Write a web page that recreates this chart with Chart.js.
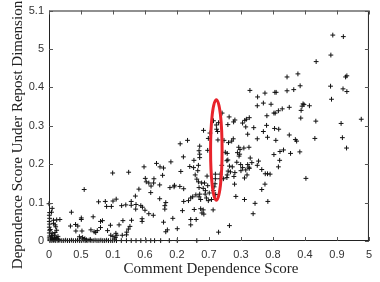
<!DOCTYPE html>
<html>
<head>
<meta charset="utf-8">
<script src="https://cdn.jsdelivr.net/npm/chart.js@4.4.1/dist/chart.umd.min.js"></script>
<style>
  html, body { margin: 0; padding: 0; background: #fff; }
</style>
</head>
<body>
<canvas id="scoreChart" width="380" height="282"></canvas>
<script>
// tick labels exactly as printed on the figure
const xTickLabels = ["0", "0.5", "0.1", "0.6", "0.2", "0.7", "0.3", "0.8", "0.4", "0.9", "5"];
const yTickLabels = ["0", "0.1", "0.2", "0.3", "0.4", "5", "5.1"];
const xAxisTitle = "Comment Dependence Score";
const yAxisTitle = "Dependence Score Under Repost Dimension";

// points sitting on the x axis
const floorRow = [
  [0.03,0.01],[0.09,0.01],[0.15,0.02],[0.21,0.01],[0.28,0.01],[0.34,0.02],[0.40,0.01],[0.46,0.01],
  [0.52,0.02],[0.58,0.01],[0.64,0.01],[0.70,0.02],[0.76,0.01],[0.83,0.01],[0.89,0.02],[0.95,0.01],
  [1.01,0.01],[1.07,0.02],[1.13,0.01],[1.19,0.01],[1.25,0.02],[1.31,0.01],[1.38,0.01],[1.44,0.02],
  [1.50,0.01],[1.56,0.01],[1.62,0.02],[1.68,0.01],[1.74,0.01],[1.80,0.02],[1.86,0.01],[1.93,0.01],
  [1.99,0.01],[2.05,0.02],[2.11,0.01],[2.26,0.01],[2.42,0.01],[2.57,0.01],[2.72,0.01],[2.87,0.01],
  [3.03,0.01],[3.18,0.01],[3.30,0.01],[3.49,0.01],[3.76,0.01],[4.01,0.01],[4.62,0.01]
];

// points sitting on the y axis and the cluster round the origin
const axisColumn = [
  [0.02,0.74],[0.01,0.67],[0.02,0.59],[0.01,0.51],[0.02,0.44],[0.01,0.36],[0.02,0.28],[0.01,0.21],
  [0.02,0.13],[0.01,0.08],[0.02,0.03],[0.00,0.97],[0.10,0.85],[0.08,0.75]
];
const nearOrigin = [
  [0.14,0.54],[0.24,0.55],[0.34,0.56],[0.14,0.46],[0.19,0.42],[0.24,0.28],[0.19,0.22],[0.17,0.15],
  [0.21,0.37],[0.05,0.08],[0.12,0.10],[0.18,0.05],[0.08,0.15],[0.25,0.06],[0.30,0.03],[0.10,0.20],
  [0.04,0.30],[0.15,0.02],[0.06,0.04],[0.11,0.06],[0.22,0.09],[0.28,0.12]
];

// comment score below the 0.6 tick
const lowCloud = [
  [0.70,0.75],[0.83,0.43],[0.67,0.39],[0.84,0.26],[1.03,0.26],[1.01,0.07],[0.90,0.39],[1.46,0.22],
  [1.12,0.06],[1.17,0.03],[1.29,0.04],[0.95,0.11],[1.05,0.09],[1.41,0.24],[2.12,0.15],
  [1.10,1.34],[1.01,0.60],[1.01,0.56],[1.31,0.29],[1.38,0.63],[1.61,0.35],[1.51,0.27],
  [1.61,0.51],[1.67,0.53],[1.92,0.41],[2.19,0.42],[2.31,0.53],[2.58,0.54],[2.53,0.38],[2.48,0.31],
  [2.43,0.23],[2.29,0.15],[2.42,0.16],[2.09,0.20],[1.83,0.27],[1.93,0.15],[2.00,0.12],[2.07,0.09],
  [1.99,1.77],[2.49,1.79],[2.57,1.03],[2.57,0.93],[2.40,0.94],[2.27,0.92],[2.10,1.09],[2.00,1.04],
  [1.76,1.03],[1.95,0.90],[1.80,0.90],[1.55,1.02],
  [2.91,0.58],[2.91,0.51],[2.87,0.92],[2.92,0.88],[2.72,0.95],[2.71,0.83],[2.70,1.17],[2.81,1.35],
  [2.97,1.93]
];

// comment score between the 0.6 and 0.7 ticks
const midCloud = [
  [3.00,0.80],[3.01,1.63],[3.04,1.54],[3.12,1.51],[3.19,1.43],[3.18,1.26],[3.28,1.62],[3.27,1.51],
  [3.36,2.02],[3.47,1.93],[3.58,1.90],[3.55,1.71],[3.46,1.46],[3.46,1.10],[3.65,1.00],[3.62,0.92],
  [3.62,0.83],[3.81,2.06],[3.78,1.39],[3.92,1.45],[3.91,1.41],[4.09,1.42],[4.12,1.81],[4.21,1.36],
  [3.26,0.67],[3.12,0.71],[3.58,0.49],[3.87,0.59],[3.70,0.29],[4.01,0.32],[3.65,0.24],[4.17,0.79],
  [4.69,2.35],[4.20,2.19],[4.71,2.26],[4.71,2.17],[4.71,2.47],[4.33,2.62],[4.10,2.53],[4.83,2.88],
  [5.03,2.81],[4.98,2.67],[4.96,2.36],[5.28,2.63],[5.27,2.85],[5.14,3.13],[5.30,3.08],[5.23,3.02],
  [5.24,2.91],[5.41,3.33],
  [4.40,1.94],[4.52,1.91],[4.67,1.97],[4.53,2.10],[4.65,1.83],[4.57,1.72],[4.62,1.61],[4.67,1.54],
  [4.77,1.51],[4.86,1.51],[4.69,1.39],[4.82,1.37],[4.94,1.69],[5.20,1.74],[5.20,1.62],[5.19,1.49],
  [5.35,1.74],[5.35,1.62],[5.45,1.62],[5.40,1.97],
  [5.01,1.25],[4.92,1.12],[5.08,1.08],[5.21,1.21],[4.96,1.44],[5.16,1.41],[5.14,1.31],[4.88,1.22],
  [4.59,1.20],[4.71,1.22],[4.89,1.31],[4.21,1.03],[4.36,1.05],[4.43,1.12],[4.49,1.15],[4.69,1.15],
  [4.74,1.08],[4.98,1.05],
  [4.54,0.82],[4.74,0.84],[4.82,0.81],[4.78,0.73],[4.84,0.70],[4.43,0.56],[4.60,0.56],[4.43,0.42],
  [5.13,0.81],[5.30,0.23]
];

// comment score above the 0.7 tick
const highCloud = [
  [5.63,3.23],[5.81,3.15],[5.77,3.10],[5.59,3.03],[6.05,3.07],[6.12,3.14],[6.17,3.17],[6.26,3.21],
  [6.40,2.95],[6.15,2.97],[6.21,2.78],[6.51,2.66],[6.83,2.70],[5.47,2.62],[5.61,2.56],[5.71,2.60],
  [5.76,2.66],
  [5.51,2.31],[5.89,2.30],[5.93,2.44],[6.09,2.42],[6.25,2.44],[5.97,2.38],[5.96,2.26],[5.94,2.21],
  [5.57,2.28],[5.56,2.09],[5.59,2.11],[5.87,2.05],[6.29,2.16],[6.55,2.08],[6.34,2.04],[6.21,1.99],
  [6.25,1.92],[6.26,1.89],[6.51,1.97],[6.05,1.91],[6.15,1.85],[5.99,1.99],[6.00,1.83],[6.11,1.64],
  [6.19,1.72],[6.65,1.86],
  [5.57,1.72],[5.56,1.65],[5.60,1.82],[5.64,1.95],[5.73,1.93],[5.67,1.80],[5.78,1.68],[5.81,1.78],
  [5.80,1.48],
  [6.76,1.75],[6.83,1.75],[6.91,1.74],[6.75,1.48],[6.65,1.34],[5.84,1.16],[6.11,1.08],[6.44,0.98],
  [6.84,1.03],[6.38,0.71],[5.64,0.40],
  [7.17,1.93],[7.21,2.10],[7.03,2.25],[7.22,2.33],[7.33,2.37],[7.55,2.28],[7.84,2.32],[8.03,1.63],
  [7.09,2.62],[7.51,2.76],[7.70,2.64],[7.74,2.60],[8.31,2.67],[9.17,2.69],[9.30,2.42],
  [6.80,3.01],[6.81,3.26],[6.70,2.85],[7.05,2.93],[7.18,2.91],[7.03,3.33],[7.07,3.33],[7.17,3.39],
  [7.29,3.44],[7.51,3.48],[7.94,3.57],[7.97,3.55],[7.91,3.51],[8.14,3.52],[7.88,3.40],[7.87,3.20],
  [8.34,3.12],[9.13,3.06],[9.76,3.17],[6.70,3.59],[6.51,3.52],[6.94,3.56],
  [6.28,3.92],[6.52,3.75],[6.75,3.85],[7.06,3.87],[7.10,3.87],[7.44,3.91],[7.65,3.94],[7.85,4.04],
  [7.44,4.27],[7.78,4.35],[8.80,4.03],[9.19,3.96],[9.31,3.89],[8.83,3.69],[9.31,4.30],[9.27,4.27],
  [8.35,4.67],[8.81,4.84],[8.87,5.36],[9.20,5.32]
];

// red ring round the vertical column near the 0.7 tick
const highlight = { x: 5.23, y: 2.37, rx: 0.18, ry: 1.31 };

const allPoints = [...floorRow, ...axisColumn, ...nearOrigin, ...lowCloud, ...midCloud, ...highCloud]
  .map(([x, y]) => ({ x, y }));

const tickFont = { family: "'Liberation Sans', Arial, sans-serif", size: 11, lineHeight: 1 };
const titleFont = "15px 'Liberation Serif', 'Times New Roman', serif";

// box, inward ticks, ring and the axis titles
const framePlugin = {
  id: "frame",
  afterDatasetsDraw(chart) {
    const { ctx, chartArea: a, scales: { x, y } } = chart;
    ctx.save();
    ctx.strokeStyle = "#222";
    ctx.lineWidth = 1;
    ctx.strokeRect(a.left + 0.5, a.top + 0.5, a.right - a.left - 1, a.bottom - a.top - 1);

    ctx.strokeStyle = "#555";
    const tl = 4;
    x.ticks.forEach(t => {
      const px = Math.round(x.getPixelForValue(t.value)) + 0.5;
      ctx.beginPath();
      ctx.moveTo(px, a.bottom); ctx.lineTo(px, a.bottom - tl);
      ctx.moveTo(px, a.top); ctx.lineTo(px, a.top + tl);
      ctx.stroke();
    });
    y.ticks.forEach(t => {
      const py = Math.round(y.getPixelForValue(t.value)) + 0.5;
      ctx.beginPath();
      ctx.moveTo(a.left, py); ctx.lineTo(a.left + tl, py);
      ctx.moveTo(a.right, py); ctx.lineTo(a.right - tl, py);
      ctx.stroke();
    });

    // ellipse
    const cx = x.getPixelForValue(highlight.x);
    const cy = y.getPixelForValue(highlight.y);
    const rx = Math.abs(x.getPixelForValue(highlight.x + highlight.rx) - cx);
    const ry = Math.abs(y.getPixelForValue(highlight.y + highlight.ry) - cy);
    ctx.strokeStyle = "#e8232b";
    ctx.lineWidth = 3;
    ctx.beginPath();
    ctx.ellipse(cx, cy, rx, ry, 0, 0, Math.PI * 2);
    ctx.stroke();

    ctx.fillStyle = "#222";
    ctx.font = titleFont;
    ctx.textAlign = "center";
    ctx.textBaseline = "middle";
    ctx.fillText(xAxisTitle, (a.left + a.right) / 2 + 2, 269);
    ctx.translate(18, 135);
    ctx.rotate(-Math.PI / 2);
    ctx.fillText(yAxisTitle, 0, 0);
    ctx.restore();
  }
};

new Chart(document.getElementById("scoreChart"), {
  type: "scatter",
  data: {
    datasets: [{
      label: "Users",
      data: allPoints,
      pointStyle: "cross",
      pointRadius: 2.4,
      pointHoverRadius: 2.4,
      borderColor: "#111",
      backgroundColor: "#111",
      borderWidth: 1,
      clip: false
    }]
  },
  options: {
    responsive: false,
    animation: false,
    devicePixelRatio: 1,
    layout: { padding: { top: 6, right: 4, left: 0, bottom: 0 } },
    scales: {
      x: {
        type: "linear",
        min: 0,
        max: 10,
        grid: { display: false, drawTicks: false },
        border: { display: false },
        ticks: {
          stepSize: 1,
          autoSkip: false,
          maxRotation: 0,
          padding: 8,
          color: "#333",
          font: tickFont,
          callback: v => xTickLabels[v] ?? ""
        },
        afterFit: s => { s.height = 41; }
      },
      y: {
        type: "linear",
        min: 0,
        max: 6,
        grid: { display: false, drawTicks: false },
        border: { display: false },
        ticks: {
          stepSize: 1,
          autoSkip: false,
          padding: 5,
          color: "#333",
          font: tickFont,
          callback: v => yTickLabels[v] ?? ""
        },
        afterFit: s => { s.width = 49; }
      }
    },
    plugins: {
      legend: { display: false },
      tooltip: { enabled: false }
    }
  },
  plugins: [framePlugin]
});
</script>
</body>
</html>
